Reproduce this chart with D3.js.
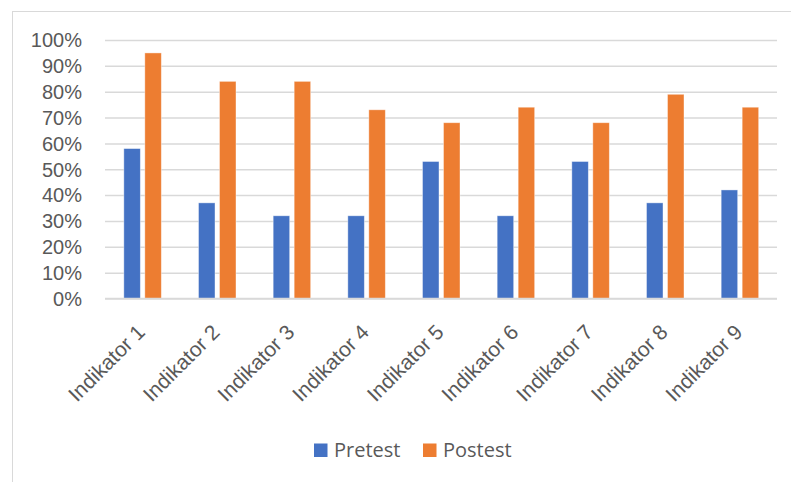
<!DOCTYPE html>
<html>
<head>
<meta charset="utf-8">
<script src="https://cdn.jsdelivr.net/npm/d3@7"></script>
<style>
  html, body { margin: 0; padding: 0; background: #fff; }
  svg { display: block; font-family: "Open Sans", "Noto Sans", sans-serif; }
</style>
</head>
<body>
<svg id="chart" width="791" height="482"></svg>
<script>
// Indicator scores before and after the intervention (share of students)
const categories = ["Indikator 1", "Indikator 2", "Indikator 3", "Indikator 4", "Indikator 5",
                    "Indikator 6", "Indikator 7", "Indikator 8", "Indikator 9"];
const pretest = [0.58, 0.37, 0.32, 0.32, 0.53, 0.32, 0.53, 0.37, 0.42];
const postest = [0.95, 0.84, 0.84, 0.73, 0.68, 0.74, 0.68, 0.79, 0.74];
const seriesNames = ["Pretest", "Postest"];
const seriesColors = ["#4472C4", "#ED7D31"];
const yTicks = [0, 0.1, 0.2, 0.3, 0.4, 0.5, 0.6, 0.7, 0.8, 0.9, 1.0];

const svg = d3.select("#chart");
const W = 791, H = 482;
const plot = { left: 105, right: 777, top: 40, bottom: 298.5 };

// Outer chart-area frame
svg.append("rect")
  .attr("x", 12.5).attr("y", 11.5)
  .attr("width", W + 20).attr("height", H + 20)
  .attr("fill", "#fff").attr("stroke", "#d9d9d9").attr("stroke-width", 1);

const x0 = d3.scaleBand().domain(categories).range([plot.left, plot.right]).padding(0);
const half = x0.bandwidth() / 2;
const x1 = d3.scaleBand().domain(seriesNames)
  .range([half - 18.5, half + 19]).paddingInner(0.214).paddingOuter(0);
const y = d3.scaleLinear().domain([0, 1]).range([plot.bottom, plot.top]);

// Horizontal gridlines + y labels
const yAxis = d3.axisLeft(y).tickValues(yTicks).tickFormat(d3.format(".0%"))
  .tickSize(-(plot.right - plot.left)).tickPadding(23);
const gy = svg.append("g").attr("transform", `translate(${plot.left},0)`).call(yAxis);
gy.select(".domain").remove();
gy.selectAll(".tick line").attr("stroke", "#d9d9d9").attr("stroke-width", 1.5);
gy.selectAll(".tick text").attr("fill", "#595959").style("font-size", "20px").attr("dy", "0.34em");

// Bars
const rows = categories.map((c, i) => ({ cat: c, vals: [pretest[i], postest[i]] }));
const groups = svg.append("g").selectAll("g").data(rows).join("g")
  .attr("transform", d => `translate(${x0(d.cat)},0)`);
groups.selectAll("rect").data(d => d.vals.map((v, j) => ({ v, s: seriesNames[j], j })))
  .join("rect")
  .attr("x", d => x1(d.s))
  .attr("y", d => y(d.v))
  .attr("width", x1.bandwidth())
  .attr("height", d => y(0) - y(d.v))
  .attr("fill", d => seriesColors[d.j])
  .attr("stroke", "#fff").attr("stroke-opacity", 0.5).attr("stroke-width", 0.8);

// Baseline
svg.append("line")
  .attr("x1", plot.left).attr("x2", plot.right)
  .attr("y1", y(0)).attr("y2", y(0))
  .attr("stroke", "#d9d9d9").attr("stroke-width", 1.5);

// Rotated category labels
const xAxis = d3.axisBottom(x0).tickSize(0).tickPadding(0);
const gx = svg.append("g").attr("transform", `translate(0,${plot.bottom})`).call(xAxis);
gx.select(".domain").remove();
gx.selectAll(".tick text")
  .attr("fill", "#595959").style("font-size", "21px")
  .attr("text-anchor", "end")
  .attr("dy", null).attr("y", 0)
  .attr("transform", "translate(4,35) rotate(-45)");

// Legend
const legend = svg.append("g");
const legendItems = [{ name: "Pretest", x: 314 }, { name: "Postest", x: 423 }];
legendItems.forEach((it, i) => {
  legend.append("rect").attr("x", it.x).attr("y", 443.5).attr("width", 13.5).attr("height", 13.5)
    .attr("fill", seriesColors[i]);
  legend.append("text").attr("x", it.x + 20).attr("y", 450).attr("dy", "0.35em")
    .attr("fill", "#595959").style("font-size", "20px").text(it.name);
});
</script>
</body>
</html>
